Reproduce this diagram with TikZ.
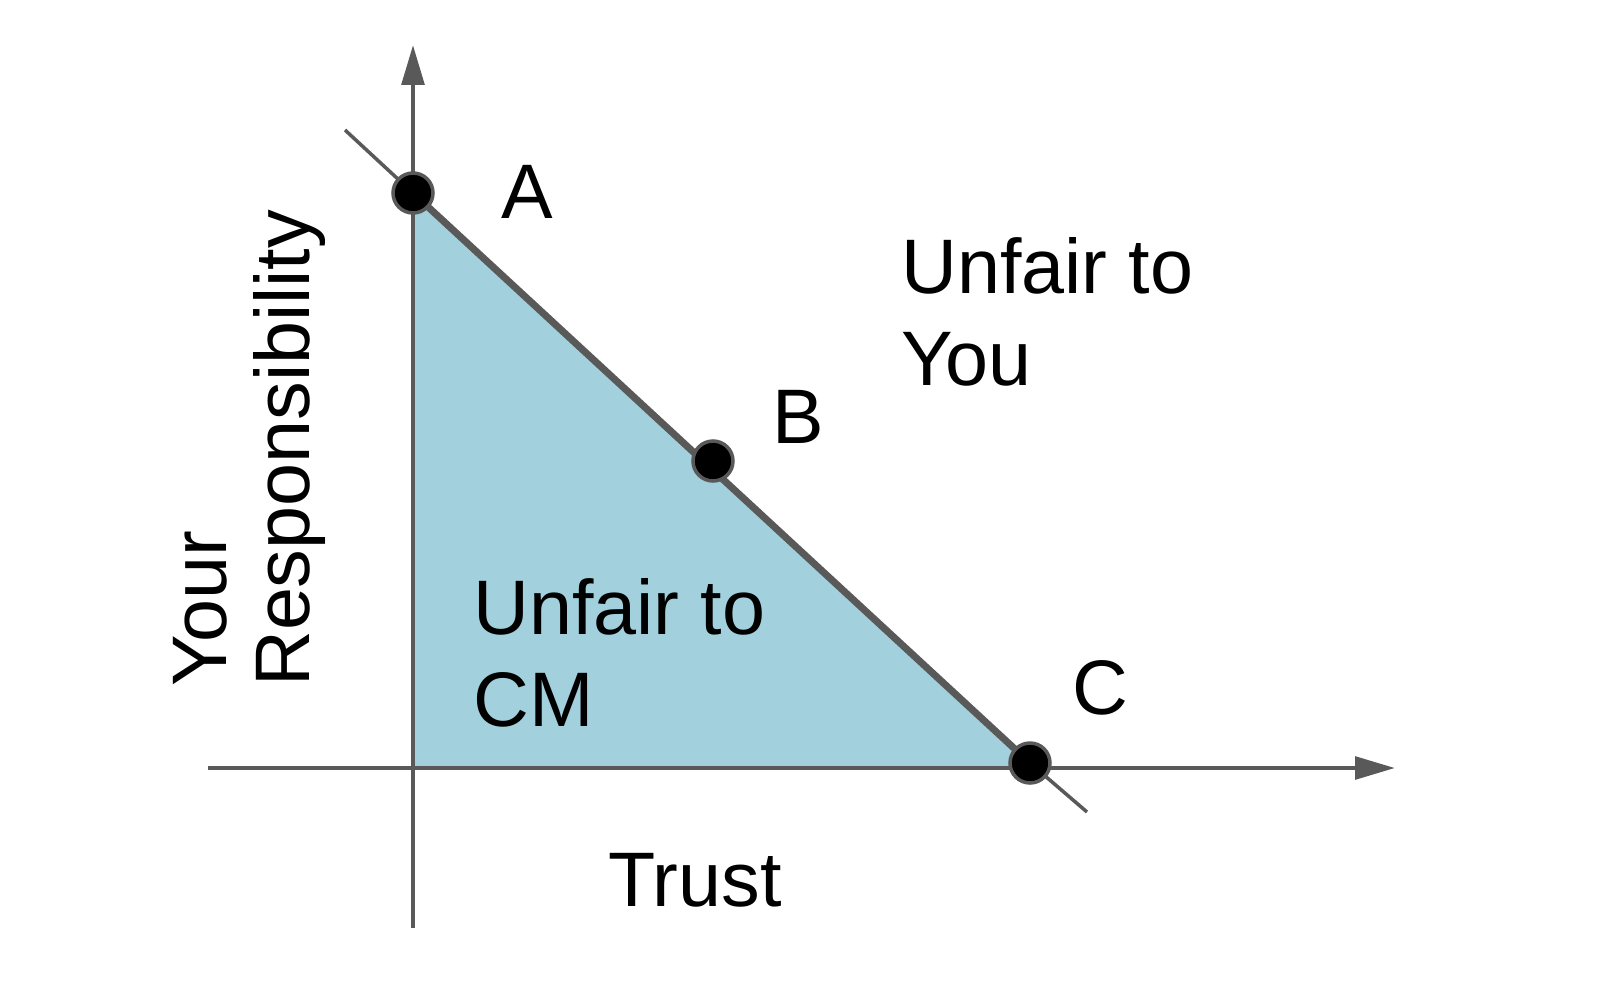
\documentclass[tikz,border=0pt]{standalone}
\usepackage{fontspec}
\setmainfont{Liberation Sans}
\usetikzlibrary{arrows.meta}
\definecolor{ejegris}{RGB}{89,89,89}
\definecolor{azulclaro}{RGB}{162,208,220}
\begin{document}
\begin{tikzpicture}[x=0.02cm, y=-0.02cm,
    eje/.style={ejegris, line width=2.5pt, -{Triangle[length=0.8cm, width=0.45cm]}},
    punto/.style={circle, fill=black, draw=ejegris, line width=2pt, minimum size=0.8cm, inner sep=0pt},
    etiqueta/.style={font=\fontsize{44}{52}\selectfont}]
    \useasboundingbox (0,0) rectangle (1600,988);
    % Region sombreada
    \fill[azulclaro] (413,193) -- (413,768) -- (1030,768) -- cycle;
    % Ejes
    \draw[eje] (413,928) -- (413,45);
    \draw[eje] (208,768) -- (1395,768);
    % Recta de equilibrio
    \coordinate (inicio) at (345,130);
    \coordinate (fin) at (1087,812);
    \draw[ejegris, line width=2pt] (inicio) -- (413,193);
    \draw[ejegris, line width=4pt] (413,193) -- (1030,763);
    \draw[ejegris, line width=2pt] (1030,763) -- (fin);
    % Puntos
    \node[punto] (A) at (413,193) {};
    \node[punto] (B) at (713,461) {};
    \node[punto] (C) at (1030,763) {};
    \node[etiqueta] (etA) at (527,192) {A};
    \node[etiqueta] (etB) at (798,417) {B};
    \node[etiqueta] (etC) at (1100,688) {C};
    % Textos
    \node[etiqueta, anchor=west, align=left] (usted) at (895,312) {Unfair to\\You};
    \node[etiqueta, anchor=west, align=left] (cm) at (467,653) {Unfair to\\CM};
    \node[etiqueta] (confianza) at (695,880) {Trust};
    \node[etiqueta, rotate=90, anchor=west] (tu) at (200,693) {Your};
    \node[etiqueta, rotate=90, anchor=west] (resp) at (290,693) {Responsibility};
\end{tikzpicture}
\end{document}
